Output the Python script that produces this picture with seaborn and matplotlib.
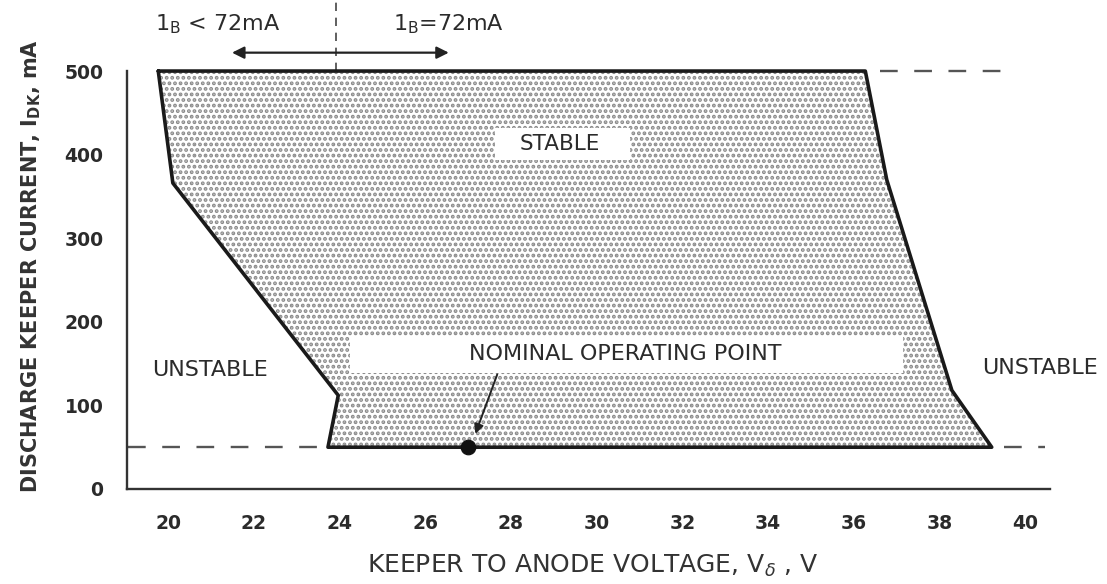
import matplotlib
matplotlib.use("Agg")
import matplotlib.pyplot as plt
from matplotlib.patches import Rectangle
import seaborn as sns

# ---- data ----
# stable-region boundary (keeper-to-anode voltage V, keeper current mA), closed polygon
boundary_v = [19.77, 36.27, 36.77, 38.29, 39.22, 23.73, 23.97, 20.11, 19.77]
boundary_i = [500, 500, 370, 118, 50, 50, 112, 366, 500]

# nominal operating point
op_v = [27.0]
op_i = [50]

# dashed guide lines
top_guide_v = [36.62, 39.55]
top_guide_i = [500, 500]
bottom_left_guide_v = [19.06, 23.6]
bottom_right_guide_v = [39.5, 40.47]
bottom_guide_i = [50, 50]
split_v = [23.92, 23.92]
split_i = [500, 585]

x_major = [20, 22, 24, 26, 28, 30, 32, 34, 36, 38, 40]
x_minor = [21, 23, 25, 27, 29, 31, 33, 35, 37, 39]
y_ticks = [0, 100, 200, 300, 400, 500]

# ---- style ----
sns.set_theme(style="white")
plt.rcParams["font.family"] = ["DejaVu Sans"]
plt.rcParams["hatch.linewidth"] = 1.9

INK = "#2b2b2b"
W, H = 1107, 584
fig = plt.figure(figsize=(W / 100, H / 100), dpi=100)
ax = fig.add_axes([127 / W, 95 / H, (1050 - 127) / W, 489 / H])
ax.set_xlim(19.04, 40.58)
ax.set_ylim(0, 585)

# stippled stable region
ax.fill(boundary_v, boundary_i, facecolor="white", edgecolor="#8a8a8a", linewidth=0,
        hatch="...", zorder=1)
sns.lineplot(x=boundary_v, y=boundary_i, sort=False, estimator=None, color="#1a1a1a",
             lw=2.6, ax=ax, zorder=3)

# dashed guides
dash_kw = dict(color="#555555", lw=1.7, dashes=(7.5, 7.0), zorder=2)
ax.plot(top_guide_v, top_guide_i, **dash_kw)
ax.plot(bottom_left_guide_v, bottom_guide_i, **dash_kw)
ax.plot(bottom_right_guide_v, bottom_guide_i, **dash_kw)
ax.plot(split_v, split_i, color="#444444", lw=1.2, dashes=(5, 4), zorder=2)

# white label boxes
ax.add_patch(Rectangle((27.63, 393), 3.15, 39, facecolor="white", edgecolor="none", zorder=2))
ax.add_patch(Rectangle((24.25, 139), 12.9, 44, facecolor="white", edgecolor="none", zorder=2))

# operating point
sns.scatterplot(x=op_v, y=op_i, s=110, color="#111111", edgecolor="#111111", ax=ax, zorder=5)

# texts
ax.text(29.15, 413, "STABLE", ha="center", va="center", fontsize=15.5, color=INK, zorder=4)
ax.text(30.67, 161, "NOMINAL OPERATING POINT", ha="center", va="center", fontsize=16,
        color=INK, zorder=4)
ax.text(20.98, 142, "UNSTABLE", ha="center", va="center", fontsize=16, color=INK)
ax.text(40.35, 145, "UNSTABLE", ha="center", va="center", fontsize=16, color=INK,
        clip_on=False)
ax.annotate("", xy=(27.17, 66), xytext=(27.68, 137),
            arrowprops=dict(arrowstyle="-|>", lw=1.4, color="#222222", mutation_scale=14,
                            shrinkA=0, shrinkB=0), zorder=4)

# beam-current annotation
ax.annotate("", xy=(21.49, 522), xytext=(26.55, 522),
            arrowprops=dict(arrowstyle="<|-|>", lw=1.6, color="#222222", mutation_scale=18,
                            shrinkA=0, shrinkB=0))
ax.text(19.69, 549, r"1$_\mathregular{B}$ < 72mA", ha="left", va="baseline", fontsize=16,
        color=INK, clip_on=False)
ax.text(25.25, 549, r"1$_\mathregular{B}$=72mA", ha="left", va="baseline", fontsize=16,
        color=INK, clip_on=False)

# axes styling
for s in ["top", "right"]:
    ax.spines[s].set_visible(False)
for s in ["left", "bottom"]:
    ax.spines[s].set_color("#333333")
    ax.spines[s].set_linewidth(1.7)
ax.spines["left"].set_bounds(0, 500)

ax.set_xticks(x_major)
ax.set_xticks(x_minor, minor=True)
ax.set_yticks(y_ticks)
ax.set_xticklabels([str(v) for v in x_major])
ax.set_yticklabels([str(v) for v in y_ticks])
ax.tick_params(axis="x", which="both", direction="in", length=11.5, width=1.4,
               color="#333333", pad=18, labelsize=13.5, labelcolor=INK)
ax.tick_params(axis="y", which="major", direction="in", length=11.5, width=1.4,
               color="#333333", pad=17, labelsize=13.5, labelcolor=INK)
for lab in ax.get_xticklabels() + ax.get_yticklabels():
    lab.set_fontweight("bold")
ax.set_xlabel("")
ax.set_ylabel("")

fig.text(593 / W, 1 - 566 / H, r"KEEPER TO ANODE VOLTAGE, V$_\delta$ , V", ha="center",
         va="center", fontsize=18, color="#333333")
fig.text(31 / W, 1 - 266 / H, r"DISCHARGE KEEPER CURRENT, I$_\mathregular{DK}$, mA",
         rotation=90, ha="center", va="center", fontsize=15, color="#333333",
         fontweight="bold")

fig.savefig("out.png", dpi=100, facecolor="white")
